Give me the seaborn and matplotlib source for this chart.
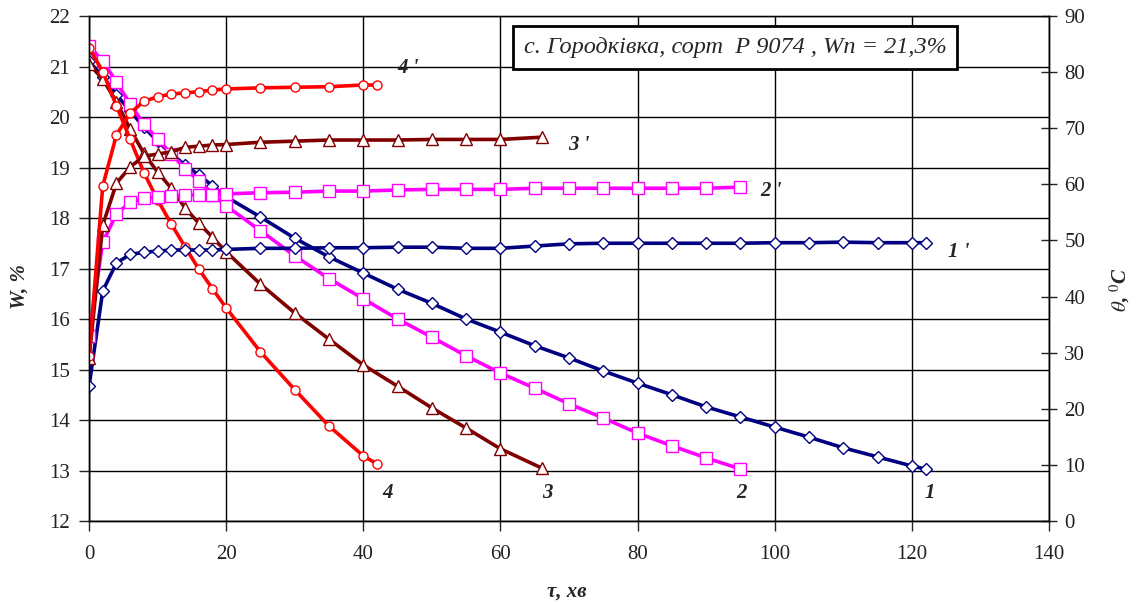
import matplotlib
matplotlib.use("Agg")
import matplotlib.pyplot as plt
import seaborn as sns

# drying time, min
t1 = [0, 2, 4, 6, 8, 10, 12, 14, 16, 18, 20, 25, 30, 35, 40, 45, 50, 55, 60, 65, 70,
      75, 80, 85, 90, 95, 100, 105, 110, 115, 120, 122]
t2 = [0, 2, 4, 6, 8, 10, 12, 14, 16, 18, 20, 25, 30, 35, 40, 45, 50, 55, 60, 65, 70,
      75, 80, 85, 90, 95]
t3 = [0, 2, 4, 6, 8, 10, 12, 14, 16, 18, 20, 25, 30, 35, 40, 45, 50, 55, 60, 66]
t4 = [0, 2, 4, 6, 8, 10, 12, 14, 16, 18, 20, 25, 30, 35, 40, 42]

# moisture W, %
w1 = [21.1, 20.8, 20.44, 20.12, 19.8, 19.52, 19.27, 19.05, 18.85, 18.64, 18.42, 18.02,
      17.6, 17.23, 16.91, 16.59, 16.31, 16.0, 15.74, 15.47, 15.23, 14.97, 14.73, 14.5,
      14.26, 14.06, 13.86, 13.66, 13.45, 13.27, 13.09, 13.03]
w2 = [21.41, 21.11, 20.69, 20.26, 19.86, 19.56, 19.27, 18.98, 18.74, 18.46, 18.24, 17.75,
      17.25, 16.8, 16.4, 16.0, 15.64, 15.27, 14.93, 14.63, 14.32, 14.04, 13.74, 13.49,
      13.25, 13.03]
w3 = [21.05, 20.75, 20.3, 19.76, 19.28, 18.91, 18.59, 18.2, 17.9, 17.62, 17.33, 16.69,
      16.12, 15.6, 15.09, 14.67, 14.24, 13.84, 13.43, 13.05]
w4 = [21.37, 20.9, 20.22, 19.56, 18.9, 18.36, 17.88, 17.43, 16.99, 16.6, 16.22, 15.35,
      14.6, 13.88, 13.29, 13.13]

# grain temperature, deg C
th1 = [24.0, 41.0, 46.0, 47.5, 47.9, 48.1, 48.3, 48.3, 48.3, 48.3, 48.4, 48.6, 48.6,
       48.7, 48.7, 48.8, 48.8, 48.6, 48.6, 49.0, 49.4, 49.5, 49.5, 49.5, 49.5, 49.5,
       49.6, 49.6, 49.7, 49.6, 49.6, 49.6]
th2 = [33.0, 49.7, 54.7, 56.8, 57.5, 57.7, 57.9, 58.1, 58.1, 58.1, 58.3, 58.5, 58.6,
       58.8, 58.8, 59.0, 59.1, 59.1, 59.1, 59.3, 59.3, 59.3, 59.3, 59.3, 59.3, 59.5]
th3 = [29.0, 52.7, 60.2, 63.1, 65.0, 65.4, 65.8, 66.6, 66.8, 67.0, 67.1, 67.5, 67.7,
       67.9, 67.9, 67.9, 68.0, 68.0, 68.0, 68.4]
th4 = [29.4, 59.7, 68.8, 72.7, 74.8, 75.6, 76.1, 76.3, 76.5, 76.8, 77.0, 77.2, 77.3,
       77.4, 77.7, 77.7]

colors = ["#000080", "#FF00FF", "#800000", "#FF0000"]
markers = ["D", "s", "^", "o"]
msizes = [6, 8, 8, 6.5]

sns.set_style("white")
plt.rcParams["font.family"] = ["Liberation Serif", "DejaVu Serif"]
plt.rcParams["mathtext.fontset"] = "stix"

fig, ax = plt.subplots(figsize=(11.37, 6.04), dpi=100)
fig.subplots_adjust(left=0.0783, right=0.9226, top=0.9735, bottom=0.1374)
ax2 = ax.twinx()

for t, w, th, c, m, s in zip([t1, t2, t3, t4], [w1, w2, w3, w4], [th1, th2, th3, th4],
                             colors, markers, msizes):
    style = dict(color=c, lw=2.6, marker=m, ms=s, markerfacecolor="white",
                 markeredgecolor=c, markeredgewidth=1.0)
    sns.lineplot(x=t, y=w, ax=ax, **style)
    sns.lineplot(x=t, y=th, ax=ax2, **style)

ax.set_xlim(0, 140)
ax.set_ylim(12, 22)
ax2.set_ylim(0, 90)
ax.set_xticks(range(0, 141, 20))
ax.set_yticks(range(12, 23))
ax2.set_yticks(range(0, 91, 10))
ax.grid(True, color="black", lw=1.0)
ax2.grid(False)
ax.set_xlabel("")
ax.set_ylabel("")
ax2.set_ylabel("")

for a in (ax, ax2):
    for sp in a.spines.values():
        sp.set_color("black")
        sp.set_linewidth(1.0)
    a.tick_params(labelsize=15, colors="#222222", length=7, width=1)
ax.spines["top"].set_color("#999999")
ax.tick_params(axis="y", direction="out", left=True, pad=7)
ax.tick_params(axis="x", direction="out", bottom=True, pad=10)
ax2.tick_params(axis="y", direction="inout", right=True, length=12, pad=5)

lab = dict(fontsize=15, fontweight="bold", style="italic", ha="center", va="center")
fig.text(0.4987, 0.02, "τ, хв", **lab)
fig.text(0.017, 0.525, "W, %", rotation=90, **lab)
fig.text(0.985, 0.52, r"$\theta$, $^0$C", rotation=90, **lab)

curve = dict(fontsize=15, fontweight="bold", style="italic", ha="center", va="center")
for x, y, s in [(46.5, 20.97, "4 '"), (71.5, 19.45, "3 '"), (99.5, 18.53, "2 '"),
                (126.8, 17.33, "1 '"), (43.5, 12.56, "4"), (66.8, 12.56, "3"),
                (95.1, 12.56, "2"), (122.6, 12.56, "1")]:
    ax.text(x, y, s, **curve)

ax.text(94.2, 21.38, "с. Городківка, сорт  Р 9074 , Wn = 21,3%", fontsize=17.5,
        style="italic", ha="center", va="center",
        bbox=dict(boxstyle="square,pad=0.45", facecolor="white", edgecolor="black", lw=2))

plt.savefig("out.png")
